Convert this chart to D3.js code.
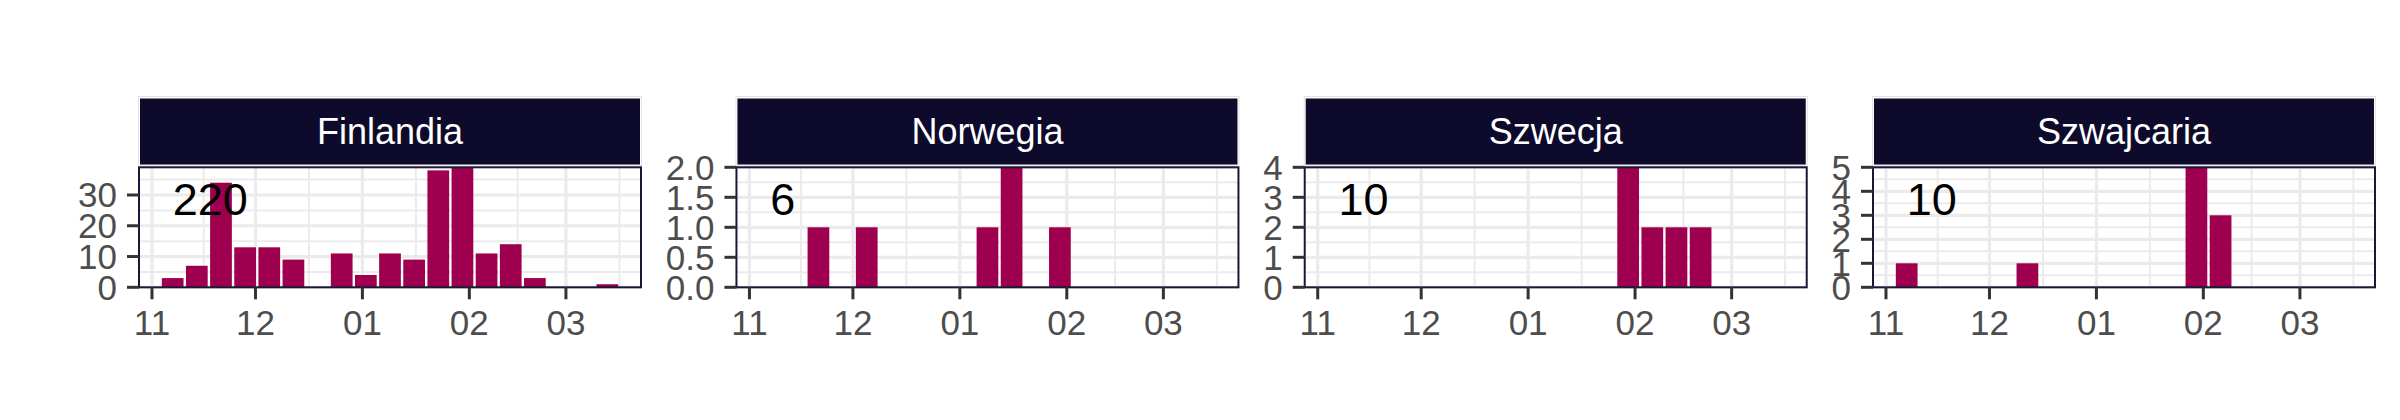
<!DOCTYPE html>
<html><head><meta charset="utf-8">
<script src="https://cdn.jsdelivr.net/npm/d3@7"></script>
<style>
html,body{margin:0;padding:0;background:#fff;}
svg{display:block;font-family:"Liberation Sans",Arial,Helvetica,sans-serif;}
</style>
</head><body>
<svg id="chart" width="2400" height="420"></svg>
<script>
// ---------- data ----------
const weeks = ["2020-11-07","2020-11-14","2020-11-21","2020-11-28","2020-12-05","2020-12-12",
  "2020-12-19","2020-12-26","2021-01-02","2021-01-09","2021-01-16","2021-01-23","2021-01-30",
  "2021-02-06","2021-02-13","2021-02-20","2021-02-27","2021-03-06","2021-03-13"];
const countries = ["Finlandia","Norwegia","Szwecja","Szwajcaria"];
const finlandia  = [3,7,34,13,13,9,0,11,4,11,9,38,39,11,14,3,0,0,1];
const norwegia   = [0,0,1,0,1,0,0,0,0,1,2,0,1,0,0,0,0,0,0];
const szwecja    = [0,0,0,0,0,0,0,0,0,0,0,0,4,2,2,2,0,0,0];
const szwajcaria = [1,0,0,0,0,1,0,0,0,0,0,0,5,3,0,0,0,0,0];
const totals = ["220","6","10","10"];
const yTicks = [[0,10,20,30],[0,0.5,1,1.5,2],[0,1,2,3,4],[0,1,2,3,4,5]];
const yMinor = [[5,15,25,35],[0.25,0.75,1.25,1.75],[0.5,1.5,2.5,3.5],[0.5,1.5,2.5,3.5,4.5]];
const yFormats = ["d",".1f","d","d"];
const xTickDates = ["2020-11-01","2020-12-01","2021-01-01","2021-02-01","2021-03-01"];
const xTickLabels = ["11","12","01","02","03"];

// ---------- style / layout ----------
const BAR = "#9E004F", STRIP = "#0E0A2B", BORDER = "#1B1736", GRID = "#EBEBEB";
const AXIS_TXT = "#4D4D4D", TICK = "#333333";
const panelW = 502, firstLeft = 139;
const panelTop = 167.3, panelBottom = 287.3;
const stripTop = 98.5, stripBottom = 164.5;
const tickLen = 12, labelGap = 10, spacing = 24.8;
const fsAxis = 35, fsStrip = 36, fsNote = 45;

const parse = d3.utcParse("%Y-%m-%d");
const wk = weeks.map(parse);
const series = [finlandia, norwegia, szwecja, szwajcaria];
const DAY = 864e5;
const halfBar = 0.45 * 7 * DAY;
const d0 = +wk[0] - halfBar, d1 = +wk[wk.length-1] + halfBar;
const pad = (d1 - d0) * 0.05;
const xDomain = [new Date(d0 - pad), new Date(d1 + pad)];

const svg = d3.select("#chart");

function textW(s, fs){
  const t = svg.append("text").attr("font-size", fs).text(s);
  const w = t.node().getComputedTextLength(); t.remove(); return w;
}
const lefts = [];
countries.forEach((c,i)=>{
  if(i===0){ lefts.push(firstLeft); return; }
  const f = d3.format(yFormats[i]);
  const lw = d3.max(yTicks[i], v => textW(f(v), fsAxis));
  lefts.push(lefts[i-1] + panelW + spacing + labelGap + tickLen + lw);
});

const xTicks = xTickDates.map(parse);
const monthBreaks = xTicks.concat([d3.utcMonth.offset(xTicks[xTicks.length-1],1)]);
const xMinor = d3.range(monthBreaks.length-1).map(i => new Date((+monthBreaks[i] + +monthBreaks[i+1])/2));

countries.forEach((name,i)=>{
  const L = lefts[i], R = L + panelW;
  const x = d3.scaleUtc().domain(xDomain).range([L, R]);
  const vals = series[i];
  const y = d3.scaleLinear().domain([0, d3.max(vals)]).range([panelBottom, panelTop]);
  const g = svg.append("g");

  g.append("rect").attr("x",L).attr("y",panelTop).attr("width",panelW).attr("height",panelBottom-panelTop).attr("fill","#fff");
  // minor grid
  g.selectAll(null).data(yMinor[i]).join("line")
    .attr("x1",L).attr("x2",R).attr("y1",d=>y(d)).attr("y2",d=>y(d))
    .attr("stroke",GRID).attr("stroke-width",2);
  g.selectAll(null).data(xMinor.filter(d=>x(d)>L && x(d)<R)).join("line")
    .attr("x1",d=>x(d)).attr("x2",d=>x(d)).attr("y1",panelTop).attr("y2",panelBottom)
    .attr("stroke",GRID).attr("stroke-width",2);
  // major grid
  g.selectAll(null).data(yTicks[i]).join("line")
    .attr("x1",L).attr("x2",R).attr("y1",d=>y(d)).attr("y2",d=>y(d))
    .attr("stroke",GRID).attr("stroke-width",3.2);
  g.selectAll(null).data(xTicks).join("line")
    .attr("x1",d=>x(d)).attr("x2",d=>x(d)).attr("y1",panelTop).attr("y2",panelBottom)
    .attr("stroke",GRID).attr("stroke-width",3.2);

  // bars
  g.selectAll(null).data(wk.map((d,j)=>({d, v: vals[j]})).filter(o=>o.v>0)).join("rect")
    .attr("x", o => x(new Date(+o.d - halfBar)))
    .attr("width", o => x(new Date(+o.d + halfBar)) - x(new Date(+o.d - halfBar)))
    .attr("y", o => y(o.v))
    .attr("height", o => y(0) - y(o.v))
    .attr("fill", BAR);

  // annotation (total)
  g.append("text").attr("x", x(wk[0])).attr("y", y(d3.max(vals)*0.73))
    .attr("dominant-baseline","central").attr("font-size",fsNote).attr("fill","#000")
    .text(totals[i]);

  // panel border
  g.append("rect").attr("x",L).attr("y",panelTop).attr("width",panelW).attr("height",panelBottom-panelTop)
    .attr("fill","none").attr("stroke",BORDER).attr("stroke-width",2);

  // strip
  g.append("rect").attr("x",L-0.5).attr("y",stripTop-2).attr("width",panelW+1).attr("height",stripBottom-stripTop+2.5)
    .attr("fill","#fff").attr("stroke","#E2E2E2").attr("stroke-width",1);
  g.append("rect").attr("x",L+1).attr("y",stripTop).attr("width",panelW-2).attr("height",stripBottom-stripTop)
    .attr("fill",STRIP);
  g.append("text").attr("x",(L+R)/2).attr("y",(stripTop+stripBottom)/2)
    .attr("text-anchor","middle").attr("dominant-baseline","central")
    .attr("font-size",fsStrip).attr("fill","#fff").text(name);

  // y axis
  const fmt = d3.format(yFormats[i]);
  g.selectAll(null).data(yTicks[i]).join("line")
    .attr("x1",L-tickLen).attr("x2",L).attr("y1",d=>y(d)).attr("y2",d=>y(d))
    .attr("stroke",TICK).attr("stroke-width",3);
  g.selectAll(null).data(yTicks[i]).join("text")
    .attr("x",L-tickLen-labelGap).attr("y",d=>y(d))
    .attr("text-anchor","end").attr("dominant-baseline","central")
    .attr("font-size",fsAxis).attr("fill",AXIS_TXT).text(d=>fmt(d));

  // x axis
  g.selectAll(null).data(xTicks).join("line")
    .attr("x1",d=>x(d)).attr("x2",d=>x(d)).attr("y1",panelBottom).attr("y2",panelBottom+tickLen)
    .attr("stroke",TICK).attr("stroke-width",3);
  g.selectAll(null).data(xTicks).join("text")
    .attr("x",d=>x(d)).attr("y",panelBottom+tickLen+36)
    .attr("text-anchor","middle")
    .attr("font-size",fsAxis).attr("fill",AXIS_TXT).text((d,j)=>xTickLabels[j]);
});
</script>
</body></html>
